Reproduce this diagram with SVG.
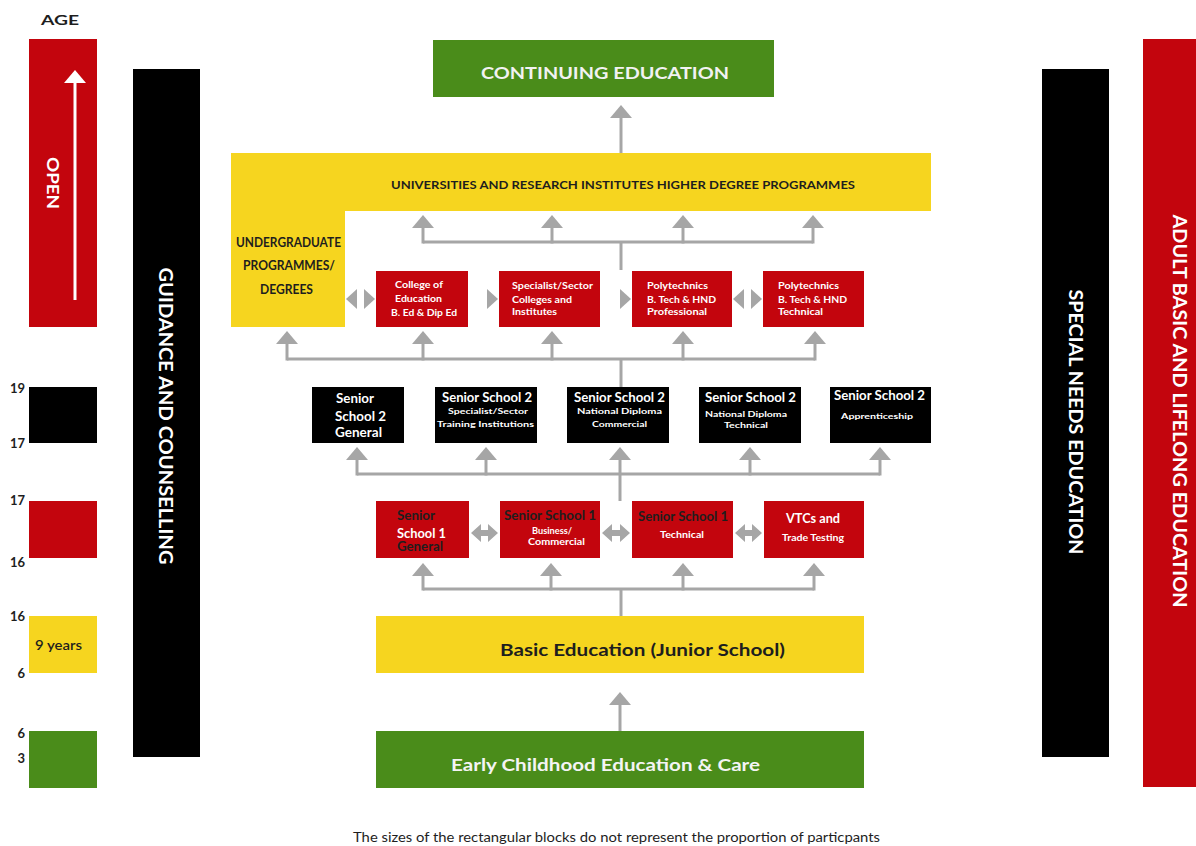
<svg xmlns="http://www.w3.org/2000/svg" width="1196" height="846" viewBox="0 0 1196 846">
<style>
.red{fill:#c3050d}.yel{fill:#f6d51f}.grn{fill:#4a8c1a}.blk{fill:#000}
text{font-family:Lato,"Open Sans","Liberation Sans",sans-serif;font-weight:bold}
.w{fill:#fff}.d{fill:#1e1e1e}
.s{font-size:9px}.m{font-size:12.5px}.age{font-size:13px;fill:#1e1e1e;text-anchor:end}
.c{stroke:#a6a6a6;stroke-width:3;fill:none}
.tri{fill:#a6a6a6}
</style>
<defs>
<marker id="up" markerUnits="userSpaceOnUse" viewBox="0 0 13 22" refX="0" refY="11" markerWidth="13" markerHeight="22" orient="auto">
<path d="M0,0 L13,11 L0,22 Z" fill="#a6a6a6"/>
</marker>
<marker id="wup" markerUnits="userSpaceOnUse" viewBox="0 0 13 22" refX="0" refY="11" markerWidth="13" markerHeight="22" orient="auto">
<path d="M0,0 L13,11 L0,22 Z" fill="#fff"/>
</marker>
</defs>
<rect width="1196" height="846" fill="#fff"/>

<g id="age-scale">
<text x="41" y="25" font-size="14" class="d" textLength="38" lengthAdjust="spacingAndGlyphs">AGE</text>
<rect class="blk" x="29" y="387" width="68" height="56"/>
<rect class="red" x="29" y="501" width="68" height="57"/>
<rect class="yel" x="29" y="616" width="68" height="57"/>
<rect class="grn" x="29" y="731" width="68" height="57"/>
<text class="age" x="25" y="393">19</text>
<text class="age" x="25" y="448">17</text>
<text class="age" x="25" y="505">17</text>
<text class="age" x="25" y="567">16</text>
<text class="age" x="25" y="621">16</text>
<text class="age" x="25" y="678">6</text>
<text class="age" x="25" y="738">6</text>
<text class="age" x="25" y="763">3</text>
<text x="35" y="650" font-size="13" class="d" font-weight="normal" style="font-weight:600" textLength="47" lengthAdjust="spacingAndGlyphs">9 years</text>
</g>

<g id="open">
<rect class="red" x="29" y="39" width="68" height="288"/>
<line x1="75" y1="300" x2="75" y2="83" stroke="#fff" stroke-width="3" marker-end="url(#wup)"/>
<text class="w" font-size="17" text-anchor="middle" dominant-baseline="central" transform="translate(53,183) rotate(90)" textLength="52" lengthAdjust="spacingAndGlyphs">OPEN</text>
</g>

<g id="guidance">
<rect class="blk" x="133" y="69" width="67" height="688"/>
<text class="w" font-size="19" text-anchor="middle" dominant-baseline="central" transform="translate(166,416) rotate(90)" textLength="297" lengthAdjust="spacingAndGlyphs">GUIDANCE AND COUNSELLING</text>
</g>

<g id="special-needs">
<rect class="blk" x="1042" y="69" width="67" height="688"/>
<text class="w" font-size="18" text-anchor="middle" dominant-baseline="central" transform="translate(1076,422) rotate(90)" textLength="265" lengthAdjust="spacingAndGlyphs">SPECIAL NEEDS EDUCATION</text>
</g>

<g id="adult">
<rect class="red" x="1143" y="39" width="53" height="748"/>
<text class="w" font-size="18" text-anchor="middle" dominant-baseline="central" transform="translate(1180,411) rotate(90)" textLength="393" lengthAdjust="spacingAndGlyphs">ADULT BASIC AND LIFELONG EDUCATION</text>
</g>

<g id="continuing">
<rect class="grn" x="433" y="40" width="341" height="57"/>
<text x="481" y="79" font-size="17" fill="#f2f2f2" textLength="248" lengthAdjust="spacingAndGlyphs">CONTINUING EDUCATION</text>
</g>

<g id="universities">
<path class="yel" d="M231,153 H931 V211 H345 V327 H231 Z"/>
<text x="391" y="189" font-size="12" class="d" textLength="464" lengthAdjust="spacingAndGlyphs">UNIVERSITIES AND RESEARCH INSTITUTES HIGHER DEGREE PROGRAMMES</text>
<text x="236" y="247" font-size="12.5" class="d" textLength="105" lengthAdjust="spacingAndGlyphs">UNDERGRADUATE</text>
<text x="243" y="270" font-size="12.5" class="d" textLength="92" lengthAdjust="spacingAndGlyphs">PROGRAMMES/</text>
<text x="260" y="294" font-size="12.5" class="d" textLength="53" lengthAdjust="spacingAndGlyphs">DEGREES</text>
</g>

<g id="college-education">
<rect class="red" x="376" y="271" width="92" height="56"/>
<text class="w s" x="395" y="288" textLength="48" lengthAdjust="spacingAndGlyphs">College of</text>
<text class="w s" x="395" y="302" textLength="47" lengthAdjust="spacingAndGlyphs">Education</text>
<text class="w s" x="391" y="316" textLength="66" lengthAdjust="spacingAndGlyphs">B. Ed &amp; Dip Ed</text>
</g>
<g id="specialist-colleges">
<rect class="red" x="499" y="271" width="101" height="56"/>
<text class="w s" x="512" y="289" textLength="81" lengthAdjust="spacingAndGlyphs">Specialist/Sector</text>
<text class="w s" x="512" y="303" textLength="60" lengthAdjust="spacingAndGlyphs">Colleges and</text>
<text class="w s" x="512" y="315" textLength="45" lengthAdjust="spacingAndGlyphs">Institutes</text>
</g>
<g id="poly-professional">
<rect class="red" x="632" y="271" width="100" height="56"/>
<text class="w s" x="647" y="289" textLength="61" lengthAdjust="spacingAndGlyphs">Polytechnics</text>
<text class="w s" x="647" y="303" textLength="69" lengthAdjust="spacingAndGlyphs">B. Tech &amp; HND</text>
<text class="w s" x="647" y="315" textLength="60" lengthAdjust="spacingAndGlyphs">Professional</text>
</g>
<g id="poly-technical">
<rect class="red" x="763" y="271" width="101" height="56"/>
<text class="w s" x="778" y="289" textLength="61" lengthAdjust="spacingAndGlyphs">Polytechnics</text>
<text class="w s" x="778" y="303" textLength="69" lengthAdjust="spacingAndGlyphs">B. Tech &amp; HND</text>
<text class="w s" x="778" y="315" textLength="45" lengthAdjust="spacingAndGlyphs">Technical</text>
</g>

<g id="ss2-general">
<rect class="blk" x="312" y="387" width="92" height="56"/>
<text class="w m" x="336" y="403" textLength="38" lengthAdjust="spacingAndGlyphs">Senior</text>
<text class="w m" x="335" y="421" textLength="51" lengthAdjust="spacingAndGlyphs">School 2</text>
<text class="w m" x="335" y="437" textLength="47" lengthAdjust="spacingAndGlyphs">General</text>
</g>
<g id="ss2-specialist">
<rect class="blk" x="435" y="387" width="102" height="56"/>
<text class="w m" x="442" y="402" textLength="90" lengthAdjust="spacingAndGlyphs">Senior School 2</text>
<text class="w" font-size="8" x="448" y="414" textLength="80" lengthAdjust="spacingAndGlyphs">Specialist/Sector</text>
<text class="w" font-size="8" x="437" y="427" textLength="97" lengthAdjust="spacingAndGlyphs">Training Institutions</text>
</g>
<g id="ss2-commercial">
<rect class="blk" x="567" y="387" width="102" height="56"/>
<text class="w m" x="574" y="402" textLength="91" lengthAdjust="spacingAndGlyphs">Senior School 2</text>
<text class="w" font-size="8" x="577" y="414" textLength="85" lengthAdjust="spacingAndGlyphs">National Diploma</text>
<text class="w" font-size="8" x="592" y="427" textLength="55" lengthAdjust="spacingAndGlyphs">Commercial</text>
</g>
<g id="ss2-technical">
<rect class="blk" x="699" y="387" width="102" height="56"/>
<text class="w m" x="705" y="402" textLength="91" lengthAdjust="spacingAndGlyphs">Senior School 2</text>
<text class="w" font-size="8" x="705" y="417" textLength="82" lengthAdjust="spacingAndGlyphs">National Diploma</text>
<text class="w" font-size="8" x="724" y="428" textLength="44" lengthAdjust="spacingAndGlyphs">Technical</text>
</g>
<g id="ss2-apprenticeship">
<rect class="blk" x="830" y="387" width="101" height="56"/>
<text class="w m" x="834" y="400" textLength="91" lengthAdjust="spacingAndGlyphs">Senior School 2</text>
<text class="w" font-size="8" x="841" y="419" textLength="72" lengthAdjust="spacingAndGlyphs">Apprenticeship</text>
</g>

<g id="ss1-general">
<rect class="red" x="376" y="501" width="93" height="57"/>
<text class="d m" x="397" y="520" textLength="38" lengthAdjust="spacingAndGlyphs">Senior</text>
<text class="w m" x="397" y="538" textLength="49" lengthAdjust="spacingAndGlyphs">School 1</text>
<text class="d m" x="397" y="551" textLength="46" lengthAdjust="spacingAndGlyphs">General</text>
</g>
<g id="ss1-business">
<rect class="red" x="500" y="501" width="100" height="57"/>
<text class="d m" x="504" y="520" textLength="92" lengthAdjust="spacingAndGlyphs">Senior School 1</text>
<text class="w" font-size="8.5" x="532" y="534" textLength="40" lengthAdjust="spacingAndGlyphs">Business/</text>
<text class="w" font-size="8.5" x="528" y="545" textLength="57" lengthAdjust="spacingAndGlyphs">Commercial</text>
</g>
<g id="ss1-technical">
<rect class="red" x="632" y="501" width="101" height="57"/>
<text class="d m" x="638" y="521" textLength="90" lengthAdjust="spacingAndGlyphs">Senior School 1</text>
<text class="w" font-size="8.5" x="660" y="538" textLength="44" lengthAdjust="spacingAndGlyphs">Technical</text>
</g>
<g id="vtcs">
<rect class="red" x="764" y="501" width="100" height="57"/>
<text class="w m" x="786" y="523" textLength="54" lengthAdjust="spacingAndGlyphs">VTCs and</text>
<text class="w" font-size="8.5" x="782" y="541" textLength="62" lengthAdjust="spacingAndGlyphs">Trade Testing</text>
</g>

<g id="basic">
<rect class="yel" x="376" y="616" width="488" height="57"/>
<text x="500" y="656" font-size="17" class="d" textLength="285" lengthAdjust="spacingAndGlyphs">Basic Education (Junior School)</text>
</g>

<g id="early">
<rect class="grn" x="376" y="731" width="488" height="57"/>
<text x="451" y="771" font-size="17" fill="#f4f4f4" textLength="309" lengthAdjust="spacingAndGlyphs">Early Childhood Education &amp; Care</text>
</g>

<g id="connectors">
<line class="c" x1="621" y1="153" x2="621" y2="118" marker-end="url(#up)"/>
<line class="c" x1="621" y1="270" x2="621" y2="242"/>
<line class="c" x1="423" y1="242" x2="813" y2="242"/>
<line class="c" x1="423" y1="243.5" x2="423" y2="228" marker-end="url(#up)"/>
<line class="c" x1="552" y1="243.5" x2="552" y2="228" marker-end="url(#up)"/>
<line class="c" x1="683" y1="243.5" x2="683" y2="228" marker-end="url(#up)"/>
<line class="c" x1="813" y1="243.5" x2="813" y2="228" marker-end="url(#up)"/>

<line class="c" x1="621" y1="387" x2="621" y2="359"/>
<line class="c" x1="287" y1="359" x2="815" y2="359"/>
<line class="c" x1="287" y1="360.5" x2="287" y2="344" marker-end="url(#up)"/>
<line class="c" x1="423" y1="360.5" x2="423" y2="344" marker-end="url(#up)"/>
<line class="c" x1="552" y1="360.5" x2="552" y2="344" marker-end="url(#up)"/>
<line class="c" x1="683" y1="360.5" x2="683" y2="344" marker-end="url(#up)"/>
<line class="c" x1="815" y1="360.5" x2="815" y2="344" marker-end="url(#up)"/>

<line class="c" x1="357" y1="474" x2="880" y2="474"/>
<line class="c" x1="357" y1="475.5" x2="357" y2="460" marker-end="url(#up)"/>
<line class="c" x1="486" y1="475.5" x2="486" y2="460" marker-end="url(#up)"/>
<line class="c" x1="620" y1="501" x2="620" y2="460" marker-end="url(#up)"/>
<line class="c" x1="750" y1="475.5" x2="750" y2="460" marker-end="url(#up)"/>
<line class="c" x1="880" y1="475.5" x2="880" y2="460" marker-end="url(#up)"/>

<line class="c" x1="621" y1="616" x2="621" y2="589"/>
<line class="c" x1="423" y1="589" x2="814" y2="589"/>
<line class="c" x1="423" y1="590.5" x2="423" y2="576" marker-end="url(#up)"/>
<line class="c" x1="551" y1="590.5" x2="551" y2="576" marker-end="url(#up)"/>
<line class="c" x1="683" y1="590.5" x2="683" y2="576" marker-end="url(#up)"/>
<line class="c" x1="814" y1="590.5" x2="814" y2="576" marker-end="url(#up)"/>

<line class="c" x1="620" y1="731" x2="620" y2="705" marker-end="url(#up)"/>

<polygon class="tri" points="357,289 357,309 346,299"/>
<polygon class="tri" points="364,289 364,309 375,299"/>
<polygon class="tri" points="487,289 487,309 498,299"/>
<polygon class="tri" points="620,289 620,309 631,299"/>
<polygon class="tri" points="744,289 744,309 733,299"/>
<polygon class="tri" points="751,289 751,309 762,299"/>

<path class="tri" d="M471,533 L481,524 L481,530 L488,530 L488,524 L498,533 L488,542 L488,536 L481,536 L481,542 Z"/>
<path class="tri" d="M602,533 L612,524 L612,530 L620,530 L620,524 L630,533 L620,542 L620,536 L612,536 L612,542 Z"/>
<path class="tri" d="M735,533 L745,524 L745,530 L752,530 L752,524 L762,533 L752,542 L752,536 L745,536 L745,542 Z"/>
</g>

<text x="353" y="842" font-size="12.5" class="d" style="font-weight:normal" textLength="527" lengthAdjust="spacingAndGlyphs">The sizes of the rectangular blocks do not represent the proportion of particpants</text>
</svg>
